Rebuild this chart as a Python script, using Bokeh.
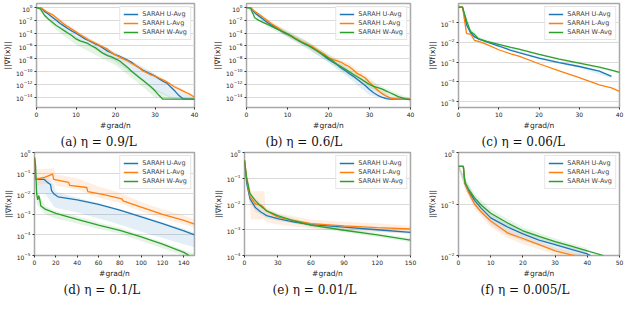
import numpy as np
from bokeh.plotting import figure
from bokeh.layouts import row, column
from bokeh.models import Range1d, FixedTicker, Title
from bokeh.embed import file_html
from bokeh.resources import INLINE

BLUE, ORANGE, GREEN = "#1f77b4", "#ff7f0e", "#2ca02c"
LABELS = ["SARAH U-Avg", "SARAH L-Avg", "SARAH W-Avg"]
YLABEL = "||∇f(x)||"
XLABEL = "#grad/n"

# ---------------- panel (a): eta = 0.9/L  (values are log10 of ||grad||)
a_x = list(range(41))
a_u = [0, 0, -0.6, -1.0, -1.5, -2.0, -2.5, -2.9, -3.3, -3.7, -4.0, -4.4, -4.8, -5.1, -5.4, -5.7, -6.0, -6.4, -6.8, -7.1,
       -7.4, -7.6, -7.9, -8.2, -8.5, -9.0, -9.4, -9.8, -10.1, -10.4, -10.7, -11.1, -11.5, -11.8, -12.4, -13.0, -13.7,
       -14.2, -14.3, -14.3, -14.3]
a_l = [0, 0, -0.4, -0.8, -1.1, -1.6, -2.1, -2.6, -3.0, -3.4, -3.8, -4.2, -4.6, -5.0, -5.3, -5.6, -5.9, -6.2, -6.5, -7.0,
       -7.4, -7.7, -8.0, -8.3, -8.7, -9.0, -9.4, -9.9, -10.2, -10.5, -10.7, -11.0, -11.3, -11.6, -12.0, -12.4, -12.7,
       -13.0, -13.3, -13.6, -14.0]
a_w = [0, -0.2, -1.2, -1.8, -2.3, -2.8, -3.2, -3.6, -4.0, -4.4, -4.9, -5.2, -5.4, -5.6, -6.0, -6.3, -6.8, -7.2, -7.5,
       -7.7, -8.0, -8.3, -8.8, -9.3, -9.9, -10.4, -10.9, -11.4, -11.9, -12.4, -13.0, -13.7, -14.3, -14.3, -14.3, -14.3,
       -14.3, -14.3, -14.3, -14.3, -14.3]
a_bx = [0, 5, 10, 15, 20, 25, 30, 35, 40]
a_u_lo = [0, -2.5, -4.8, -6.6, -8.5, -10.6, -13.0, -14.3, -14.3]
a_u_hi = [0, -1.7, -3.7, -5.4, -7.0, -8.6, -10.4, -12.8, -14.2]
a_l_lo = [0, -1.9, -4.1, -5.9, -7.7, -9.3, -11.0, -12.7, -14.3]
a_l_hi = [0, -1.3, -3.5, -5.3, -7.1, -8.7, -10.4, -12.1, -13.7]
a_w_lo = [0, -3.5, -5.8, -7.4, -9.0, -11.4, -14.0, -14.4, -14.4]
a_w_hi = [0, -2.5, -4.6, -6.1, -7.8, -10.1, -12.7, -14.2, -14.2]

# ---------------- panel (b): eta = 0.6/L
b_x = list(range(41))
b_u = [0, 0, -0.8, -1.3, -1.8, -2.3, -2.7, -3.1, -3.5, -3.9, -4.2, -4.5, -4.9, -5.2, -5.6, -5.9, -6.2, -6.6, -7.1, -7.6,
       -8.1, -8.5, -8.9, -9.4, -9.8, -10.3, -10.7, -11.2, -11.7, -12.2, -12.8, -13.3, -13.7, -14.0, -14.2, -14.3, -14.3,
       -14.3, -14.3, -14.3, -14.3]
b_l = [0, 0, -0.6, -1.0, -1.5, -2.0, -2.5, -2.9, -3.3, -3.8, -4.1, -4.5, -4.8, -5.2, -5.5, -5.8, -6.1, -6.5, -6.9, -7.3,
       -7.8, -8.1, -8.3, -8.5, -8.9, -9.2, -9.7, -10.3, -10.6, -11.0, -11.7, -12.3, -12.9, -13.4, -13.8, -14.1, -14.2,
       -14.3, -14.3, -14.3, -14.3]
b_w = [0, -0.1, -1.6, -2.0, -2.3, -2.6, -2.9, -3.2, -3.5, -3.8, -4.1, -4.5, -4.9, -5.3, -5.6, -5.9, -6.3, -6.7, -7.1,
       -7.5, -7.9, -8.3, -8.8, -9.2, -9.6, -10.0, -10.4, -10.8, -11.2, -11.6, -12.0, -12.3, -12.5, -12.7, -13.0, -13.3,
       -13.6, -13.9, -14.1, -14.3, -14.4]
b_bx = [0, 5, 10, 15, 20, 25, 30, 35, 40]
b_u_lo = [0, -2.6, -4.6, -6.4, -8.6, -11.0, -13.7, -14.4, -14.4]
b_u_hi = [0, -2.0, -3.8, -5.4, -7.6, -9.7, -12.0, -14.0, -14.2]
b_l_lo = [0, -2.3, -4.5, -6.2, -8.2, -9.7, -12.3, -14.3, -14.4]
b_l_hi = [0, -1.7, -3.7, -5.4, -7.3, -8.7, -11.0, -13.8, -14.2]
b_w_lo = [0, -3.0, -4.6, -6.5, -8.5, -10.6, -12.6, -13.8, -14.4]
b_w_hi = [0, -2.2, -3.6, -5.3, -7.3, -9.4, -11.4, -12.9, -14.2]

# ---------------- panel (c): eta = 0.06/L
c_x = [0, 1, 2, 3, 4, 5, 7, 10, 13, 15, 20, 25, 30, 35, 38, 40]
c_ux = [0, 1, 2, 3, 4, 5, 7, 10, 13, 15, 20, 25, 30, 35, 38]
c_u = [-0.21, -0.21, -1.1, -1.5, -1.72, -1.82, -1.97, -2.18, -2.4, -2.52, -2.8, -3.02, -3.22, -3.45, -3.72]
c_l = [-0.21, -0.21, -1.55, -1.57, -1.9, -1.95, -2.1, -2.37, -2.58, -2.69, -3.08, -3.44, -3.79, -4.15, -4.31, -4.48]
c_w = [-0.21, -0.21, -0.9, -1.45, -1.6, -1.82, -1.95, -2.1, -2.25, -2.34, -2.6, -2.85, -3.05, -3.25, -3.4, -3.52]
c_bx = [0, 1, 2, 3, 4, 5, 10, 20, 30, 38]
c_u_lo = [-0.21, -0.21, -1.3, -1.6, -1.8, -1.88, -2.24, -2.86, -3.3, -3.82]
c_u_hi = [-0.18, -0.18, -0.9, -1.35, -1.62, -1.76, -2.12, -2.74, -3.16, -3.64]
c_wx = [0, 1, 2, 3, 4, 5, 10, 20, 30, 40]
c_w_lo = [-0.21, -0.21, -1.1, -1.6, -1.75, -1.9, -2.15, -2.65, -3.1, -3.58]
c_w_hi = [-0.18, -0.18, -0.7, -1.3, -1.45, -1.72, -2.05, -2.55, -3.0, -3.47]

# ---------------- panel (d): eta = 0.1/L
d_ux = [0, 1, 9, 12, 15, 16, 18, 22, 40, 60, 80, 100, 120, 140, 150]
d_u = [-0.25, -1.3, -1.3, -1.45, -1.55, -1.85, -2.0, -2.15, -2.3, -2.52, -2.8, -3.12, -3.45, -3.8, -4.0]
d_lx = [0, 1, 10, 17, 18, 32, 33, 49, 50, 65, 82, 83, 100, 120, 140, 150]
d_l = [-0.25, -1.3, -1.2, -1.05, -1.3, -1.45, -1.6, -1.7, -1.9, -2.05, -2.25, -2.35, -2.65, -3.0, -3.3, -3.48]
d_wx = [0, 1, 2, 3, 4, 5, 6, 10, 20, 40, 60, 80, 100, 120, 140, 145]
d_w = [-0.25, -0.6, -2.0, -2.3, -2.1, -2.3, -2.6, -2.75, -2.95, -3.25, -3.52, -3.78, -4.1, -4.45, -4.85, -5.0]
d_bx = [0, 2, 10, 18, 20, 40, 60, 80, 100, 120, 140, 150]
d_u_lo = [-0.3, -2.0, -2.0, -2.6, -2.7, -2.9, -3.2, -3.5, -3.85, -4.15, -4.45, -4.6]
d_u_hi = [-0.2, -1.2, -1.2, -1.5, -1.9, -2.2, -2.45, -2.75, -3.05, -3.4, -3.7, -3.9]
d_l_lo = [-0.3, -1.6, -1.5, -1.4, -1.6, -1.8, -2.2, -2.45, -2.85, -3.2, -3.5, -3.65]
d_l_hi = [-0.2, -0.8, -0.8, -0.75, -1.05, -1.25, -1.65, -1.95, -2.4, -2.75, -3.05, -3.25]
d_w_lo = [-0.3, -2.5, -3.0, -3.15, -3.2, -3.45, -3.7, -3.95, -4.3, -4.65, -5.0, -5.2]
d_w_hi = [-0.2, -1.8, -2.6, -2.8, -2.85, -3.1, -3.4, -3.65, -4.0, -4.35, -4.75, -4.9]

# ---------------- panel (e): eta = 0.01/L
e_x = [0, 2, 5, 10, 15, 17, 20, 30, 45, 60, 90, 120, 150]
e_u = [-0.3, -1.2, -1.8, -2.15, -2.32, -2.37, -2.45, -2.57, -2.7, -2.8, -2.9, -3.0, -3.1]
e_l = [-0.3, -1.05, -1.7, -2.0, -2.05, -2.12, -2.27, -2.5, -2.65, -2.76, -2.85, -2.92, -2.97]
e_w = [-0.3, -1.0, -1.6, -1.88, -2.1, -2.16, -2.27, -2.45, -2.66, -2.82, -3.02, -3.2, -3.4]
e_lbx = [0, 5, 6, 18, 19, 30, 60, 90, 120, 150]
e_l_lo = [-0.4, -2.2, -2.6, -2.6, -2.7, -2.8, -2.95, -3.05, -3.1, -3.15]
e_l_hi = [-0.2, -1.3, -1.5, -1.5, -2.1, -2.35, -2.6, -2.7, -2.75, -2.85]
e_bx = [0, 2, 5, 10, 20, 30, 60, 90, 120, 150]
e_u_lo = [-0.35, -1.35, -1.95, -2.3, -2.55, -2.65, -2.86, -2.97, -3.07, -3.16]
e_u_hi = [-0.25, -1.05, -1.65, -2.0, -2.35, -2.5, -2.72, -2.84, -2.94, -3.04]
e_w_lo = [-0.35, -1.1, -1.7, -1.98, -2.35, -2.52, -2.9, -3.1, -3.28, -3.48]
e_w_hi = [-0.25, -0.9, -1.5, -1.78, -2.2, -2.38, -2.75, -2.95, -3.13, -3.33]

# ---------------- panel (f): eta = 0.005/L
f_ux = [0, 1.5, 2, 3, 5, 7, 10, 15, 20, 25, 30, 35, 40, 41]
f_u = [-0.27, -0.27, -0.6, -0.73, -0.93, -1.08, -1.27, -1.44, -1.58, -1.7, -1.79, -1.88, -1.97, -2.0]
f_lx = [0, 1.5, 2, 3, 5, 7, 10, 15, 16, 20, 25, 30, 35, 36]
f_l = [-0.27, -0.27, -0.6, -0.76, -1.0, -1.15, -1.33, -1.55, -1.58, -1.67, -1.79, -1.91, -1.99, -2.0]
f_wx = [0, 1.5, 2, 3, 5, 7, 10, 15, 20, 25, 30, 35, 40, 45]
f_w = [-0.27, -0.27, -0.58, -0.7, -0.88, -1.02, -1.18, -1.36, -1.52, -1.63, -1.73, -1.82, -1.91, -2.0]
f_bx = [0, 2, 5, 10, 15, 20, 30, 40]
f_u_lo = [-0.3, -0.7, -1.05, -1.4, -1.6, -1.72, -1.9, -2.05]
f_u_hi = [-0.24, -0.5, -0.85, -1.17, -1.36, -1.5, -1.72, -1.9]
f_l_lo = [-0.3, -0.7, -1.1, -1.45, -1.65, -1.78, -1.98, -2.1]
f_l_hi = [-0.24, -0.52, -0.92, -1.25, -1.47, -1.6, -1.85, -2.0]
f_w_lo = [-0.3, -0.65, -0.95, -1.25, -1.43, -1.58, -1.78, -1.96]
f_w_hi = [-0.24, -0.5, -0.8, -1.1, -1.28, -1.45, -1.67, -1.86]

CAPTIONS = ["(a) η = 0.9/L", "(b) η = 0.6/L", "(c) η = 0.06/L",
            "(d) η = 0.1/L", "(e) η = 0.01/L", "(f) η = 0.005/L"]


def P(e):
    return [10.0 ** v for v in e]


def make_panel(caption, cap_off, xr, yr, xticks, yticks, lines, bands, width, height, bl, br, bt):
    p = figure(width=width, height=height, y_axis_type="log", output_backend="svg",
               toolbar_location=None, x_range=Range1d(*xr), y_range=Range1d(*yr),
               min_border_left=bl, min_border_right=br, min_border_top=bt, min_border_bottom=0)
    p.background_fill_color = "white"
    p.border_fill_color = "white"
    p.outline_line_color = "#a8a8a8"
    p.outline_line_width = 1.5
    p.xgrid.visible = False
    p.ygrid.grid_line_color = "#dadada"
    p.ygrid.grid_line_width = 1.2
    p.xaxis.ticker = FixedTicker(ticks=xticks)
    p.yaxis.ticker = FixedTicker(ticks=yticks)
    for ax in (p.xaxis, p.yaxis):
        ax.axis_line_color = None
        ax.major_tick_line_color = "#333333"
        ax.major_tick_out = 2
        ax.major_tick_in = 0
        ax.minor_tick_line_color = None
        ax.major_label_text_font = "DejaVu Sans"
        ax.major_label_text_font_size = "6px"
        ax.major_label_text_color = "#222222"
        ax.major_label_standoff = 2
        ax.axis_label_text_font = "DejaVu Sans"
        ax.axis_label_text_font_style = "normal"
        ax.axis_label_text_font_size = "7.5px"
        ax.axis_label_text_color = "#222222"
        ax.axis_label_standoff = 1
    p.xaxis.axis_label = XLABEL
    p.yaxis.axis_label = YLABEL
    for bx, lo, hi, col in bands:
        p.varea(x=bx, y1=P(lo), y2=P(hi), fill_color=col, fill_alpha=0.12)
    for (lx, ly), col, lab in zip(lines, [BLUE, ORANGE, GREEN], LABELS):
        p.line(lx, P(ly), line_color=col, line_width=1.3, legend_label=lab)
    lg = p.legend[0]
    lg.location = "top_right"
    lg.label_text_font = "DejaVu Sans"
    lg.label_text_font_size = "6.5px"
    lg.label_height = 8
    lg.glyph_height = 8
    lg.glyph_width = 15
    lg.spacing = 1
    lg.padding = 3
    lg.margin = 3
    lg.label_standoff = 4
    lg.border_line_color = "#cccccc"
    lg.background_fill_alpha = 0.85
    p.add_layout(Title(text=caption, align="left", text_font="DejaVu Serif",
                       text_font_style="normal", text_font_size="12px",
                       text_color="#111111", standoff=0, offset=cap_off), "below")
    return p


dec2 = [10.0 ** k for k in (0, -2, -4, -6, -8, -10, -12, -14)]
H = 148
pa = make_panel(CAPTIONS[0], 24, (0, 40), (2.5e-16, 4.3), [0, 10, 20, 30, 40], dec2,
                [(a_x, a_u), (a_x, a_l), (a_x, a_w)],
                [(a_bx, a_u_lo, a_u_hi, BLUE), (a_bx, a_l_lo, a_l_hi, ORANGE), (a_bx, a_w_lo, a_w_hi, GREEN)],
                210, H, 22, 16, 3)
pb = make_panel(CAPTIONS[1], 19, (0, 40), (2.5e-16, 4.3), [0, 10, 20, 30, 40], dec2,
                [(b_x, b_u), (b_x, b_l), (b_x, b_w)],
                [(b_bx, b_u_lo, b_u_hi, BLUE), (b_bx, b_l_lo, b_l_hi, ORANGE), (b_bx, b_w_lo, b_w_hi, GREEN)],
                210, H, 30, 10, 3)
pc = make_panel(CAPTIONS[2], 23, (0, 40), (5e-6, 0.95), [0, 10, 20, 30, 40],
                [1e-1, 1e-2, 1e-3, 1e-4, 1e-5],
                [(c_ux, c_u), (c_x, c_l), (c_x, c_w)],
                [(c_bx, c_u_lo, c_u_hi, BLUE), (c_wx, c_w_lo, c_w_hi, GREEN)],
                204, H, 38, 5, 3)
pd = make_panel(CAPTIONS[3], 29, (0, 150), (1e-5, 1.0), [0, 20, 40, 60, 80, 100, 120, 140],
                [1e0, 1e-1, 1e-2, 1e-3, 1e-4, 1e-5],
                [(d_ux, d_u), (d_lx, d_l), (d_wx, d_w)],
                [(d_bx, d_u_lo, d_u_hi, BLUE), (d_bx, d_l_lo, d_l_hi, ORANGE), (d_bx, d_w_lo, d_w_hi, GREEN)],
                210, H, 22, 16, 4)
pe = make_panel(CAPTIONS[4], 28, (0, 150), (1e-4, 1.0), [0, 30, 60, 90, 120, 150],
                [1e0, 1e-1, 1e-2, 1e-3, 1e-4],
                [(e_x, e_u), (e_x, e_l), (e_x, e_w)],
                [(e_bx, e_u_lo, e_u_hi, BLUE), (e_lbx, e_l_lo, e_l_hi, ORANGE), (e_bx, e_w_lo, e_w_hi, GREEN)],
                210, H, 30, 10, 4)
pf = make_panel(CAPTIONS[5], 22, (0, 50), (1e-2, 1.0), [0, 10, 20, 30, 40, 50],
                [1e0, 1e-1, 1e-2],
                [(f_ux, f_u), (f_lx, f_l), (f_wx, f_w)],
                [(f_bx, f_u_lo, f_u_hi, BLUE), (f_bx, f_l_lo, f_l_hi, ORANGE), (f_bx, f_w_lo, f_w_hi, GREEN)],
                204, H, 38, 5, 4)

layout = column(row(pa, pb, pc), row(pd, pe, pf))
open("out.html", "w").write(file_html(layout, INLINE))
